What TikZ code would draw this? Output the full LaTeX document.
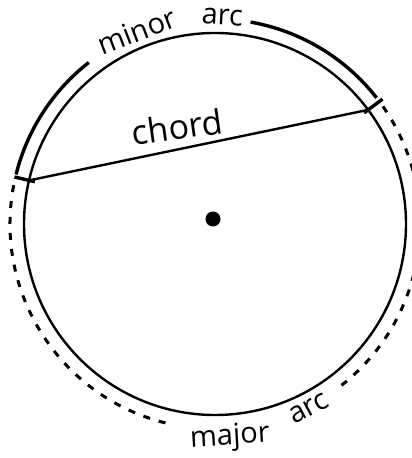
\documentclass[tikz,border=0pt]{standalone}
\usepackage{fontspec}
\setmainfont{Open Sans}
\usetikzlibrary{calc}
\tikzset{
  rim/.style={line width=2.4pt},
  chordline/.style={line width=2.4pt, line cap=round},
  minorarc/.style={line width=3.4pt},
  majorarc/.style={line width=3pt, dash pattern=on 7pt off 9pt},
  endtick/.style={line width=3.4pt},
  lbl/.style={font=\fontsize{29}{29}\selectfont, inner sep=0pt},
  biglbl/.style={font=\fontsize{34}{34}\selectfont, inner sep=0pt},
  dot/.style={circle, fill=black, minimum size=15pt, inner sep=0pt}
}

\begin{document}
\begin{tikzpicture}[x=1pt,y=1pt]
\useasboundingbox (0,0) rectangle (412,458);
\coordinate (O) at (215,234);
% circle and centre
\draw[rim] (O) circle[radius=191];
\node[dot] (centre) at (213,239) {};
% chord
\coordinate (A) at ($(O)+(166.8:191)$);
\coordinate (B) at ($(O)+(36.7:191)$);
\draw[chordline] (A) -- (B);
\node[biglbl, rotate=8] (chordlbl) at (177,331) {chord};
% end marks
\coordinate (Ain) at ($(O)+(166.8:185)$);
\coordinate (Aout) at ($(O)+(166.8:206)$);
\coordinate (Bin) at ($(O)+(36.7:186)$);
\coordinate (Bout) at ($(O)+(36.7:209)$);
\draw[endtick] (Ain) -- (Aout);
\draw[endtick] (Bin) -- (Bout);
% minor arc
\draw[minorarc] ($(O)+(166:205)$) arc[start angle=166, end angle=128, radius=205];
\draw[minorarc] ($(O)+(80:205)$) arc[start angle=80, end angle=38, radius=205];
\node[lbl, rotate=21] (minorw) at ($(O)+(112:208)$) {minor};
\node[lbl, rotate=-3] (minorarcw) at ($(O)+(88:207)$) {arc};
% major arc
\draw[majorarc] ($(O)+(35:205)$) arc[start angle=35, end angle=-52, radius=205];
\draw[majorarc] ($(O)+(-104:205)$) arc[start angle=-104, end angle=-193, radius=205];
\node[lbl, rotate=3.5] (majorw) at ($(O)+(-86:214)$) {major};
\node[lbl, rotate=28] (majorarcw) at ($(O)+(-63:207)$) {arc};
\end{tikzpicture}
\end{document}
